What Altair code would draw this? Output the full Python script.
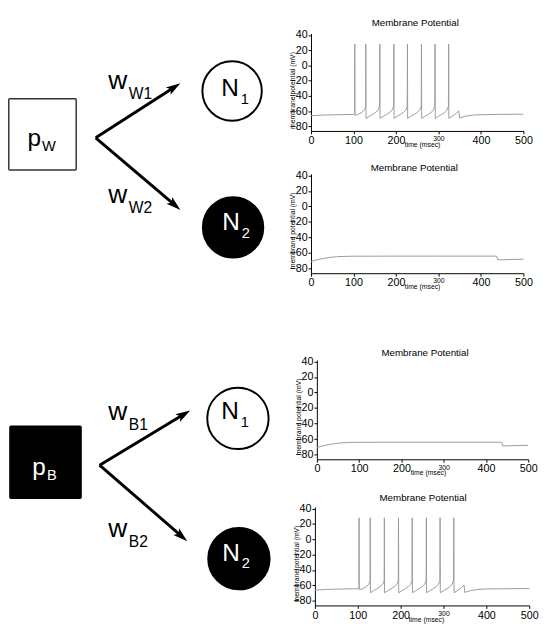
import altair as alt
import pandas as pd
import numpy as np

FONT = "Liberation Sans"

# ---------------- data ----------------
# spiking membrane-potential trace (N1 under p_W, N2 under p_B)
spike_t = [0, 25, 50, 75, 101, 102.6,
           103, 103.5, 110, 118, 124, 127.5, 128.7,
           129, 129.5, 137, 145, 152, 158, 161.5,
           162, 162.5, 170, 178, 185, 191, 194.5,
           195, 195.5, 203, 211, 218, 223, 226.5,
           227, 227.5, 235, 243, 250, 256, 259.5,
           260, 260.5, 268, 276, 283, 288, 291.5,
           292, 292.5, 300, 308, 315, 320, 323.5,
           324, 324.5, 332, 340, 348, 349.5, 355, 365, 380, 400, 450, 500]
spike_v = [-66, -65.2, -64.8, -64.5, -64.3, -62.5,
           28, -65.5, -64.5, -62.2, -59.5, -56.5, -53,
           28, -69.5, -66.8, -64.2, -61.6, -58.5, -53.5,
           28, -69.5, -66.8, -64.2, -61.7, -58.6, -53.5,
           28, -69.5, -66.8, -64.2, -61.5, -58.8, -53.5,
           28, -69.5, -66.8, -64.2, -61.6, -58.5, -53.5,
           28, -69.5, -66.8, -64.2, -61.5, -58.8, -53.5,
           28, -69.5, -66.8, -64.2, -61.5, -58.8, -53.5,
           28, -69.5, -66.8, -63.8, -59.5, -69, -68, -66.5, -65.2, -64.6, -64.2, -64]

# sub-threshold trace (N2 under p_W, N1 under p_B)
flat_t = [0, 10, 20, 30, 40, 50, 60, 75, 100, 200, 300, 400, 437, 440, 445, 460, 480, 500]
flat_v = [-71, -69.4, -68, -66.9, -66, -65.3, -64.8, -64.4, -64.1, -64, -64, -64, -64,
          -69, -68.8, -68.5, -68.2, -68]

x_ticks = [0, 100, 200, 300, 400, 500]
y_ticks = [-80, -60, -40, -20, 0, 20, 40]
plot_title = "Membrane Potential"
x_title = "time (msec)"
y_title = "membrane potential (mV)"

# diagram labels
box_labels = ["p", "p"]
box_subs = ["W", "B"]
weight_subs = ["W1", "W2", "B1", "B2"]
node_subs = ["1", "2", "1", "2"]

# ---------------- layout (page pixels) ----------------
DX0, DX1 = 8, 319
DY0 = 8
col_gaps = [17.4, 44, 89, 49]
plot_h = [100, 102, 102, 101]
plot_w = [218, 218, 217, 220]
plot_shift = [0, 0, 6, 4]
title_x = [107, 106, 111, 111]
title_y = [-10.4, -6.4, -6.7, -9.4]
total_h = sum(col_gaps) + sum(plot_h)
DY1 = DY0 + total_h

xs = alt.Scale(domain=[DX0, DX1], nice=False, zero=False)
ys = alt.Scale(domain=[DY0, DY1], nice=False, zero=False, reverse=True)

boxes = pd.DataFrame({
    "x": [8.8, 10], "x2": [78, 83], "y": [93, 429], "y2": [166, 503],
    "fill": ["white", "black"], "stroke": ["#333333", "black"],
})
nodes = pd.DataFrame({
    "x": [238, 239, 244, 245], "y": [85, 225, 421, 565],
    "d": [61, 62, 63, 63],
    "fill": ["white", "black", "white", "black"],
})
arrows_from = [(98, 133), (98, 133), (102, 469), (102, 469)]
arrows_to = [(185, 77), (185, 207), (195, 413), (192, 547)]

HEAD = 15
rows_line, rows_head = [], []
for (x0, y0), (x1, y1) in zip(arrows_from, arrows_to):
    dx, dy = x1 - x0, y1 - y0
    L = np.hypot(dx, dy)
    ux, uy = dx / L, dy / L
    rows_line.append({"x": x0, "y": y0, "x2": x1 - ux * 9, "y2": y1 - uy * 9})
    rows_head.append({"x": x1 - ux * HEAD / 2, "y": y1 - uy * HEAD / 2,
                      "ang": float(np.degrees(np.arctan2(dx, -dy)) % 360)})
lines_df = pd.DataFrame(rows_line)
heads_df = pd.DataFrame(rows_head)

texts = []
texts += [
    {"t": box_labels[0], "x": 28, "y": 141, "fs": 25, "c": "black"},
    {"t": box_subs[0], "x": 43, "y": 147, "fs": 15, "c": "black"},
    {"t": box_labels[1], "x": 33, "y": 479, "fs": 25, "c": "white"},
    {"t": box_subs[1], "x": 48, "y": 484, "fs": 15, "c": "white"},
]
for sub, (wx, wy) in zip(weight_subs, [(111, 83), (111, 200), (111, 423), (111, 543)]):
    texts.append({"t": "w", "x": wx, "y": wy, "fs": 27, "c": "black"})
    texts.append({"t": sub, "x": wx + 21, "y": wy + 10, "fs": 16, "c": "black"})
for sub, (nx, ny), col in zip(node_subs, [(227, 90), (228, 228), (227, 422), (228, 567)],
                              ["black", "white", "black", "white"]):
    texts.append({"t": "N", "x": nx, "y": ny, "fs": 25, "c": col})
    texts.append({"t": sub, "x": nx + 20, "y": ny + 8, "fs": 15, "c": col})
texts_df = pd.DataFrame(texts)

X = lambda f: alt.X(f, scale=xs, axis=None)
Y = lambda f: alt.Y(f, scale=ys, axis=None)

box_layer = alt.Chart(boxes).mark_rect(strokeWidth=1.5, cornerRadius=1).encode(
    x=X("x:Q"), x2="x2:Q", y=Y("y:Q"), y2="y2:Q",
    fill=alt.Fill("fill:N", scale=None), stroke=alt.Stroke("stroke:N", scale=None))
node_layer = alt.Chart(nodes).mark_point(shape="circle", filled=True, opacity=1,
                                         strokeWidth=2, stroke="black").encode(
    x=X("x:Q"), y=Y("y:Q"), size=alt.Size("dsq:Q", scale=None),
    fill=alt.Fill("fill:N", scale=None)).transform_calculate(dsq="datum.d * datum.d")
line_layer = alt.Chart(lines_df).mark_rule(strokeWidth=3, color="black").encode(
    x=X("x:Q"), y=Y("y:Q"), x2="x2:Q", y2="y2:Q")
head_layer = alt.Chart(heads_df).mark_point(
    shape="M0,-1L0.6,1L0,0.55L-0.6,1Z", filled=True, opacity=1, color="black",
    size=HEAD * HEAD).encode(x=X("x:Q"), y=Y("y:Q"), angle=alt.Angle("ang:Q", scale=None))
text_layer = alt.Chart(texts_df).mark_text(align="left", baseline="alphabetic", font=FONT).encode(
    x=X("x:Q"), y=Y("y:Q"), text="t:N", size=alt.Size("fs:Q", scale=None),
    color=alt.Color("c:N", scale=None))

diagram = alt.layer(box_layer, line_layer, head_layer, node_layer, text_layer).properties(
    width=DX1 - DX0, height=total_h)


def trace(t, v, i):
    df = pd.DataFrame({"t": t, "v": v})
    s = plot_shift[i]
    w = plot_w[i]
    line = alt.Chart(df).mark_line(color="#9a9a9a", strokeWidth=1).encode(
        x=alt.X("t:Q", scale=alt.Scale(domain=[0, 500], range=[s, s + w], nice=False),
                axis=alt.Axis(values=x_ticks, title=x_title, titleFontSize=7,
                              titleFontWeight="normal", titleX=114 + s, titleY=14,
                              titleBaseline="middle", titleAlign="center",
                              labelFontSize={"expr": "datum.value == 300 ? 7 : 11"},
                              tickSize=3, labelPadding=1, labelFlush=False,
                              labelOverlap=False)),
        y=alt.Y("v:Q", scale=alt.Scale(domain=[-86, 42], nice=False, zero=False),
                axis=alt.Axis(values=y_ticks, title=y_title, titleFontSize=7,
                              titleFontWeight="normal", titleX=-18.5, titleY=58,
                              titleBaseline="middle", titleAlign="center",
                              labelFontSize=11, tickSize=3, labelPadding=1,
                              labelOverlap=False, offset=-s)),
    )
    ttl = alt.Chart(pd.DataFrame({"t": [plot_title]})).mark_text(
        fontSize=10, font=FONT, color="black", baseline="middle", align="center").encode(
        text="t:N", x=alt.value(title_x[i] + s), y=alt.value(title_y[i]))
    return alt.layer(line, ttl).properties(width=s + w, height=plot_h[i])


def spacer(h):
    return alt.Chart(pd.DataFrame({"a": [0]})).mark_point(opacity=0, size=0).encode(
        x=alt.value(0), y=alt.value(0)).properties(width=1, height=h)


p1 = trace(spike_t, spike_v, 0)
p2 = trace(flat_t, flat_v, 1)
p3 = trace(flat_t, flat_v, 2)
p4 = trace(spike_t, spike_v, 3)

right = alt.vconcat(
    spacer(col_gaps[0]), p1,
    spacer(col_gaps[1]), p2,
    spacer(col_gaps[2]), p3,
    spacer(col_gaps[3]), p4,
    spacing=0, bounds="flush")

chart = alt.hconcat(diagram, right, spacing=0, bounds="flush").properties(
    padding=0
).configure_view(stroke=None).configure_axis(
    grid=False, domainColor="black", tickColor="black", labelColor="black",
    titleColor="black", labelFont=FONT, titleFont=FONT
)

chart.save("out.html", embed_options={"renderer": "svg", "actions": False})
